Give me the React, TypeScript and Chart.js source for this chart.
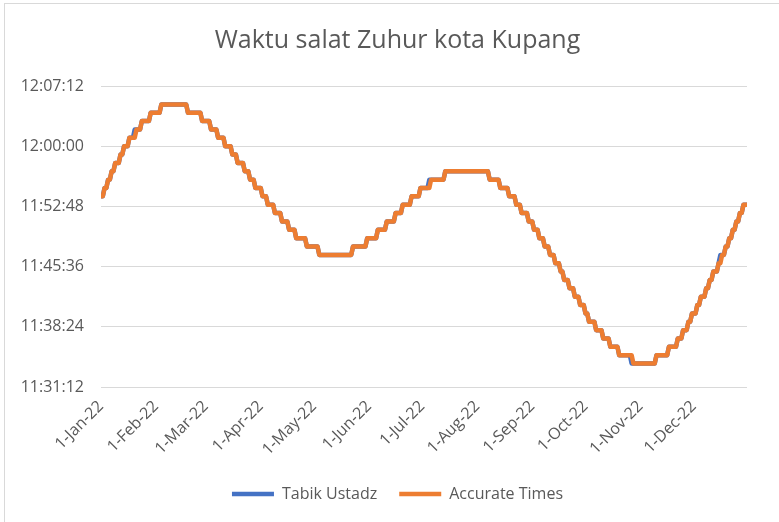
import React, { useEffect, useRef } from "react";
import { Chart, registerables } from "chart.js";

Chart.register(...registerables);

// ---- Data (Zuhur time, minutes past 11:00, one value per day of 2022) ----
const monthLabels = ["1-Jan-22", "1-Feb-22", "1-Mar-22", "1-Apr-22", "1-May-22", "1-Jun-22", "1-Jul-22", "1-Aug-22", "1-Sep-22", "1-Oct-22", "1-Nov-22", "1-Dec-22"];
const monthStartDay = [0, 31, 59, 90, 120, 151, 181, 212, 243, 273, 304, 334];
const yTickLabels = ["11:31:12", "11:38:24", "11:45:36", "11:52:48", "12:00:00", "12:07:12"];

const accJan = [54, 54, 55, 55, 56, 56, 57, 57, 58, 58, 58, 59, 59, 60, 60, 60, 61, 61, 61, 61, 62, 62, 62, 63, 63, 63, 63, 63, 64, 64, 64];
const accFeb = [64, 64, 64, 65, 65, 65, 65, 65, 65, 65, 65, 65, 65, 65, 65, 65, 65, 65, 64, 64, 64, 64, 64, 64, 64, 64, 63, 63];
const accMar = [63, 63, 63, 62, 62, 62, 62, 61, 61, 61, 61, 60, 60, 60, 60, 59, 59, 59, 58, 58, 58, 58, 57, 57, 57, 56, 56, 56, 55, 55, 55];
const accApr = [55, 54, 54, 54, 53, 53, 53, 53, 52, 52, 52, 52, 51, 51, 51, 51, 50, 50, 50, 50, 49, 49, 49, 49, 49, 49, 48, 48, 48, 48];
const accMay = [48, 48, 48, 47, 47, 47, 47, 47, 47, 47, 47, 47, 47, 47, 47, 47, 47, 47, 47, 47, 47, 47, 48, 48, 48, 48, 48, 48, 48, 48, 49];
const accJun = [49, 49, 49, 49, 49, 50, 50, 50, 50, 50, 51, 51, 51, 51, 51, 52, 52, 52, 52, 53, 53, 53, 53, 53, 54, 54, 54, 54, 54, 55];
const accJul = [55, 55, 55, 55, 55, 56, 56, 56, 56, 56, 56, 56, 56, 57, 57, 57, 57, 57, 57, 57, 57, 57, 57, 57, 57, 57, 57, 57, 57, 57, 57];
const accAug = [57, 57, 57, 57, 57, 57, 57, 56, 56, 56, 56, 56, 56, 55, 55, 55, 55, 55, 54, 54, 54, 54, 53, 53, 53, 52, 52, 52, 52, 51, 51];
const accSep = [51, 50, 50, 50, 49, 49, 49, 48, 48, 48, 47, 47, 47, 46, 46, 46, 45, 45, 44, 44, 44, 43, 43, 43, 42, 42, 42, 41, 41, 41];
const accOct = [40, 40, 39, 39, 39, 39, 38, 38, 38, 38, 37, 37, 37, 37, 36, 36, 36, 36, 36, 35, 35, 35, 35, 35, 35, 35, 35, 34, 34, 34, 34];
const accNov = [34, 34, 34, 34, 34, 34, 34, 34, 34, 35, 35, 35, 35, 35, 35, 35, 36, 36, 36, 36, 36, 37, 37, 37, 38, 38, 38, 39, 39, 40];
const accDec = [40, 40, 41, 41, 42, 42, 42, 43, 43, 44, 44, 45, 45, 45, 46, 46, 47, 47, 48, 48, 49, 49, 50, 50, 51, 51, 52, 52, 53, 53, 53];

// Tabik Ustadz: same as Accurate Times except these days [dayIndex, minute]
const tabikDifferences: [number, number][] = [[19, 62], [185, 56], [299, 34], [349, 47]];

const accurateMinutes = [...accJan, ...accFeb, ...accMar, ...accApr, ...accMay, ...accJun, ...accJul, ...accAug, ...accSep, ...accOct, ...accNov, ...accDec];
const tabikMinutes = accurateMinutes.slice();
tabikDifferences.forEach(([d, m]) => { tabikMinutes[d] = m; });

const toSec = (hms: string) => { const [h, m, s] = hms.split(":").map(Number); return h * 3600 + m * 60 + s; };
const fmt = (sec: number) => {
  const s = Math.round(sec);
  const h = Math.floor(s / 3600), m = Math.floor((s % 3600) / 60), ss = s % 60;
  return `${h}:${String(m).padStart(2, "0")}:${String(ss).padStart(2, "0")}`;
};
const minuteToSec = (m: number) => 11 * 3600 + m * 60;

const TEXT = "#595959";
const FONT = "'Open Sans', 'Liberation Sans', sans-serif";

export default function App() {
  const ref = useRef<HTMLCanvasElement | null>(null);
  useEffect(() => {
    if (!ref.current) return;
    const yTicks = yTickLabels.map(toSec);
    const lineStyle = {
      borderWidth: 4.5,
      pointRadius: 0,
      tension: 0,
      borderJoinStyle: "round",
      borderCapStyle: "round",
    };
    const chart = new Chart(ref.current, {
      type: "line",
      data: {
        datasets: [
          {
            label: "Accurate Times",
            data: accurateMinutes.map((m, i) => ({ x: i, y: minuteToSec(m) })),
            borderColor: "#ED7D31",
            backgroundColor: "#ED7D31",
            ...lineStyle,
          },
          {
            label: "Tabik Ustadz",
            data: tabikMinutes.map((m, i) => ({ x: i, y: minuteToSec(m) })),
            borderColor: "#4472C4",
            backgroundColor: "#4472C4",
            ...lineStyle,
          },
        ],
      },
      options: {
        animation: false,
        responsive: false,
        devicePixelRatio: 1,
        layout: { padding: { left: 16, right: 0, top: 0, bottom: 10 } },
        plugins: {
          title: {
            display: true,
            text: "Waktu salat Zuhur kota Kupang",
            color: TEXT,
            font: { family: FONT, size: 25, weight: "normal" },
            padding: { top: 26, bottom: 30 },
          },
          legend: {
            position: "bottom",
            reverse: true,
            labels: {
              usePointStyle: true,
              pointStyle: "line",
              pointStyleWidth: 42,
              boxHeight: 16,
              color: TEXT,
              font: { family: FONT, size: 16 },
              padding: 22,
            },
          },
          tooltip: { enabled: false },
        },
        scales: {
          x: {
            type: "linear",
            min: 0,
            max: accurateMinutes.length - 1,
            grid: { display: false, drawTicks: false },
            border: { display: false },
            afterBuildTicks: (s: any) => { s.ticks = monthStartDay.map((v) => ({ value: v })); },
            afterFit: (s: any) => { s.height = 77; },
            ticks: {
              autoSkip: false,
              minRotation: 45,
              maxRotation: 45,
              padding: 10,
              color: TEXT,
              font: { family: FONT, size: 16 },
              callback: (v: any) => { const i = monthStartDay.indexOf(Number(v)); return i >= 0 ? monthLabels[i] : ""; },
            },
          },
          y: {
            min: yTicks[0],
            max: yTicks[yTicks.length - 1],
            afterBuildTicks: (s: any) => { s.ticks = yTicks.map((v) => ({ value: v })); },
            afterFit: (s: any) => { s.width = 85; },
            grid: { color: "#d9d9d9", lineWidth: 1, drawTicks: false },
            border: { display: false },
            ticks: {
              padding: 17,
              color: TEXT,
              font: { family: FONT, size: 16 },
              callback: (v: any) => fmt(Number(v)),
            },
          },
          yRightSpacer: {
            position: "right",
            display: true,
            grid: { display: false, drawTicks: false },
            border: { display: false },
            ticks: { display: false },
            afterFit: (s: any) => { s.width = 32; },
          },
        },
      },
    } as any);
    return () => chart.destroy();
  }, []);

  return (
    <div style={{ position: "fixed", left: 0, top: 0, width: 779, height: 522, overflow: "hidden", background: "#fff" }}>
      <canvas ref={ref} width={779} height={522} style={{ display: "block", width: 779, height: 522 }} />
      <div style={{ position: "absolute", left: 4, top: 3, width: 820, height: 560, border: "1px solid #d9d9d9", pointerEvents: "none" }} />
    </div>
  );
}
